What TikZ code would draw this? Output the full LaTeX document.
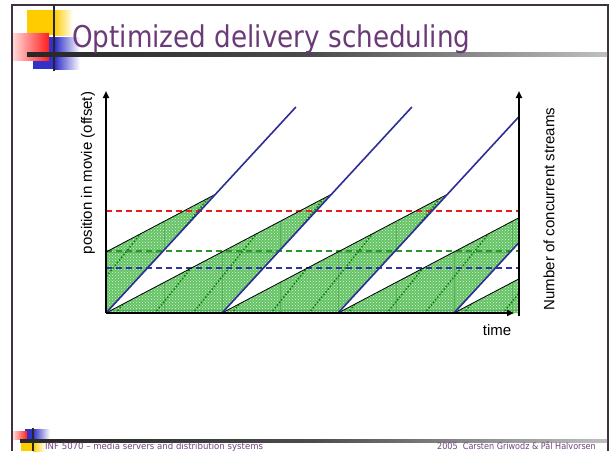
\documentclass[tikz,border=0pt]{standalone}
\usepackage{fontspec}
\setmainfont{Liberation Sans}
\newfontfamily\slidefont{DejaVu Sans}
\usetikzlibrary{arrows.meta,patterns}

\definecolor{framegray}{RGB}{64,48,64}
\definecolor{titlepurple}{RGB}{107,58,120}
\definecolor{footpurple}{RGB}{110,70,125}
\definecolor{logoyellow}{RGB}{255,204,0}
\definecolor{logored}{RGB}{255,30,30}
\definecolor{logopink}{RGB}{255,215,215}
\definecolor{logoblue}{RGB}{50,50,200}
\definecolor{streamblue}{RGB}{45,45,150}
\definecolor{areagreen}{RGB}{100,195,100}
\definecolor{dotgreen}{RGB}{0,125,0}
\definecolor{speck}{RGB}{225,245,225}
\definecolor{linegreen}{RGB}{20,140,20}
\definecolor{dashred}{RGB}{230,30,30}
\definecolor{dashgreen}{RGB}{40,150,40}
\definecolor{dashblue}{RGB}{50,50,165}

\tikzset{
  frameline/.style={framegray, line width=2pt},
  axisline/.style={black, line width=2pt, -{Triangle[length=7pt,width=6pt]}},
  greenarea/.style={fill=areagreen},
  stipple/.style={pattern=crosshatch dots, pattern color=speck},
  edgeline/.style={black, line width=0.8pt},
  streamline/.style={streamblue, line width=1.6pt},
  leveldash/.style={line width=1.2pt, dash pattern=on 6pt off 4pt},
  innerdots/.style={dotgreen, line width=2pt, line cap=round, dash pattern=on 0pt off 3.4pt},
  gridline/.style={linegreen!70, line width=0.6pt},
  axislabel/.style={font=\fontsize{15}{17}\selectfont, inner sep=0pt},
}

\begin{document}
\begin{tikzpicture}[x=1pt,y=-1pt]
\useasboundingbox (0,0) rectangle (610,451);
\fill[white] (0,0) rectangle (610,451);

% ---------- slide frame ----------
\draw[frameline] (12,451) -- (12,5) -- (608,5) -- (608,451);

% ---------- logo, top left ----------
\fill[logoyellow] (27,10) rectangle (54,35);
\shade[left color=logoyellow, right color=white] (54,10) rectangle (73,35);
\fill[logoblue] (33,37) rectangle (55,69);
\shade[left color=logoblue, right color=white] (55,37) rectangle (80,69);
\shade[left color=logopink, right color=logored] (13,33) rectangle (49,60);
\draw[black!85, line width=2pt] (54,5) -- (54,71);
\shade[left color=black!85, right color=black!25, middle color=black!70] (27,52.5) rectangle (607,56);

% ---------- title ----------
\node[anchor=base west, inner sep=0pt, text=titlepurple] (title) at (72,47)
  {\scalebox{0.874}[1]{\slidefont\fontsize{30}{36}\selectfont Optimized delivery scheduling}};

% ---------- delivery diagram ----------
% stream areas between patching start and full stream
\def\areas{
  (106,313) -- (106,252) -- (215.6,194.2) -- cycle
  (106,313) -- (331.6,194.2) -- (222,313) -- cycle
  (222,313) -- (447.6,194.2) -- (338,313) -- cycle
  (338,313) -- (519,217.7) -- (519,242.5) -- (454,313) -- cycle
  (454,313) -- (519,278.8) -- (519,313) -- cycle
}
\fill[greenarea] \areas;
\fill[stipple] \areas;
\begin{scope}
  \clip \areas;
  \foreach \gx in {164,222,280,338,396,454,512}
    \draw[gridline] (\gx,313) -- (\gx,190);
  \draw[gridline] (106,252) -- (519,252);
  \draw[gridline] (106,310) -- (519,310);
  \foreach \sx in {-115,-76,-38,0,39,77,116,155,193,232,271,309,348,387,425,464,503}
    \draw[innerdots] (\sx,313) -- ++(150,-187);
\end{scope}

% playback levels
\draw[leveldash, dashred]   (106,211) -- (519,211);
\draw[leveldash, dashgreen] (106,251) -- (519,251);
\draw[leveldash, dashblue]  (106,268) -- (519,268);

% upper edges of the stream areas
\draw[edgeline] (106,252) -- (215.6,194.2);
\draw[edgeline] (106,313) -- (331.6,194.2);
\draw[edgeline] (222,313) -- (447.6,194.2);
\draw[edgeline] (338,313) -- (519,217.7);
\draw[edgeline] (454,313) -- (519,278.8);

% full streams
\draw[streamline] (106,313) -- (295.9,107);
\draw[streamline] (222,313) -- (411.9,107);
\draw[streamline] (338,313) -- (519,116.6);
\draw[streamline] (454,313) -- (519,242.5);

% axes
\coordinate (origin) at (106,313);
\coordinate (ytop) at (106,91);
\coordinate (xend) at (514,313);
\coordinate (rbottom) at (519,316);
\coordinate (rtop) at (519,91);
\draw[axisline] (origin) -- (ytop);
\draw[axisline] (origin) -- (xend);
\draw[axisline] (rbottom) -- (rtop);

\node[axislabel, rotate=90] (ylabel) at (88,173) {position in movie (offset)};
\node[axislabel, rotate=90] (rlabel) at (549,209) {Number of concurrent streams};
\node[axislabel, anchor=base] (xlabel) at (497,335) {time};

% ---------- footer ----------
\fill[logoyellow] (21,443) rectangle (33,451);
\shade[left color=logoyellow, right color=white] (33,443) rectangle (45,451);
\fill[logoblue] (25,429) rectangle (33,439);
\shade[left color=logoblue, right color=white] (33,429) rectangle (50,439);
\shade[left color=logopink, right color=logored] (13,431) rectangle (27,439);
\draw[black!85, line width=1.5pt] (33,428) -- (33,451);
\shade[left color=black!85, right color=black!25, middle color=black!70] (20,439) rectangle (607,442.2);
\node[anchor=base west, inner sep=0pt, text=footpurple] (footleft) at (45,449.6)
  {\scalebox{0.953}[1]{\slidefont\fontsize{9}{10}\selectfont INF 5070 – media servers and distribution systems}};
\node[anchor=base east, inner sep=0pt, text=footpurple] (footright) at (596,449.6)
  {\scalebox{0.897}[1]{\slidefont\fontsize{9}{10}\selectfont 2005\ \ Carsten Griwodz \& Pål Halvorsen}};
\end{tikzpicture}
\end{document}
